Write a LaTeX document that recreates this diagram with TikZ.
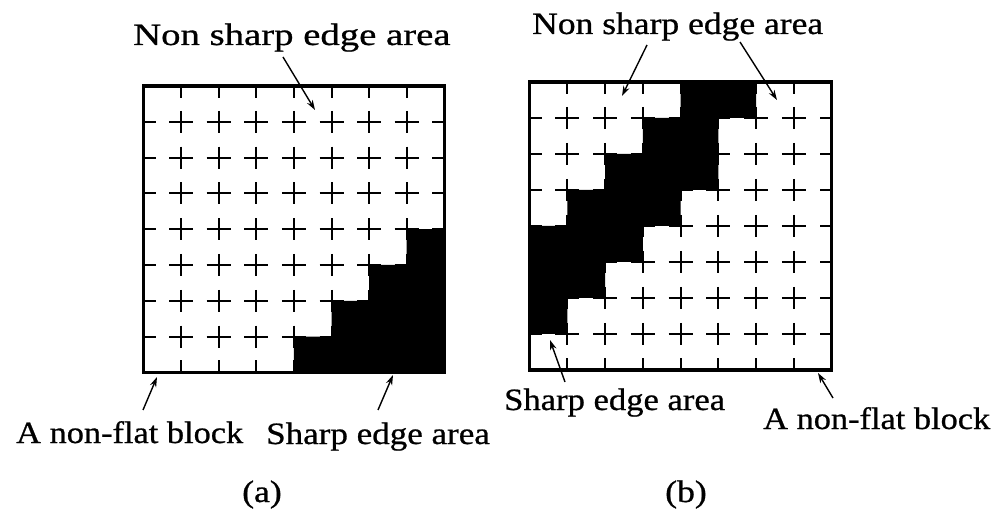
\documentclass[tikz,border=0pt]{standalone}
\usepackage{fontspec}
\setmainfont{Liberation Serif}[FakeBold=0.7]
\usetikzlibrary{arrows.meta}
\begin{document}
\begin{tikzpicture}[x=1pt,y=-1pt,
  lbl/.style={inner sep=0pt, anchor=base west, font=\fontsize{31}{36}\selectfont},
  captext/.style={inner sep=0pt, anchor=base, font=\fontsize{31}{36}\selectfont},
  crossline/.style={line width=2pt},
  frame/.style={line width=3.2pt},
  arr/.style={line width=1.4pt, -{Stealth[length=10pt,width=6.5pt]}},
  blk/.style={fill=black}]
\useasboundingbox (0,0) rectangle (1001,518);

% ---------- grid (a) ----------
\begin{scope}[shift={(143.5,86)}]
  \def\cw{37.6}\def\ch{35.8}
  \foreach \i in {1,...,7} {
    \foreach \j in {1,...,7} {
      \draw[crossline] (\i*\cw-12,\j*\ch) -- ++(24,0);
      \draw[crossline] (\i*\cw,\j*\ch-11) -- ++(0,22);
    }
    \draw[crossline] (\i*\cw,0) -- ++(0,12);
    \draw[crossline] (\i*\cw,8*\ch) -- ++(0,-12);
    \draw[crossline] (0,\i*\ch) -- ++(12,0);
    \draw[crossline] (8*\cw,\i*\ch) -- ++(-12,0);
  }
  \path[blk] (4*\cw,8*\ch) -- (4*\cw,7*\ch) -- (5*\cw,7*\ch) -- (5*\cw,6*\ch)
    -- (6*\cw,6*\ch) -- (6*\cw,5*\ch) -- (7*\cw,5*\ch) -- (7*\cw,4*\ch)
    -- (8*\cw,4*\ch) -- (8*\cw,8*\ch) -- cycle;
  \draw[frame] (0,0) rectangle (8*\cw,8*\ch);
\end{scope}

% ---------- grid (b) ----------
\begin{scope}[shift={(529.5,82)}]
  \def\cw{37.75}\def\ch{36}
  \foreach \i in {1,...,7} {
    \foreach \j in {1,...,7} {
      \draw[crossline] (\i*\cw-12,\j*\ch) -- ++(24,0);
      \draw[crossline] (\i*\cw,\j*\ch-11) -- ++(0,22);
    }
    \draw[crossline] (\i*\cw,0) -- ++(0,12);
    \draw[crossline] (\i*\cw,8*\ch) -- ++(0,-12);
    \draw[crossline] (0,\i*\ch) -- ++(12,0);
    \draw[crossline] (8*\cw,\i*\ch) -- ++(-12,0);
  }
  \path[blk] (4*\cw,0) -- (6*\cw,0) -- (6*\cw,1*\ch) -- (5*\cw,1*\ch)
    -- (5*\cw,3*\ch) -- (4*\cw,3*\ch) -- (4*\cw,4*\ch) -- (3*\cw,4*\ch)
    -- (3*\cw,5*\ch) -- (2*\cw,5*\ch) -- (2*\cw,6*\ch) -- (1*\cw,6*\ch)
    -- (1*\cw,7*\ch) -- (0,7*\ch) -- (0,4*\ch) -- (1*\cw,4*\ch)
    -- (1*\cw,3*\ch) -- (2*\cw,3*\ch) -- (2*\cw,2*\ch) -- (3*\cw,2*\ch)
    -- (3*\cw,1*\ch) -- (4*\cw,1*\ch) -- cycle;
  \draw[frame] (0,0) rectangle (8*\cw,8*\ch);
\end{scope}

% ---------- labels ----------
\node[lbl] (na) at (133,45) {\scalebox{1.25}[1]{Non sharp edge area}};
\node[lbl] (aa) at (16,443) {\scalebox{1.108}[1]{A non-flat block}};
\node[lbl] (sa) at (266,444) {\scalebox{1.13}[1]{Sharp edge area}};
\node[lbl] (nb) at (532,34) {\scalebox{1.146}[1]{Non sharp edge area}};
\node[lbl] (sb) at (504,410) {\scalebox{1.116}[1]{Sharp edge area}};
\node[lbl] (ab) at (763,429) {\scalebox{1.108}[1]{A non-flat block}};
\node[captext] (capa) at (262,502) {\scalebox{1.15}[1]{(a)}};
\node[captext] (capb) at (686,502) {\scalebox{1.15}[1]{(b)}};

% ---------- arrows ----------
\coordinate (na-t) at (283,57);   \coordinate (na-h) at (315,110);
\coordinate (aa-t) at (143,410);  \coordinate (aa-h) at (157,377);
\coordinate (sa-t) at (378,410);  \coordinate (sa-h) at (393,375);
\coordinate (nb-t1) at (647,45);  \coordinate (nb-h1) at (622,96);
\coordinate (nb-t2) at (740,42);  \coordinate (nb-h2) at (777,100);
\coordinate (sb-t) at (565,382);  \coordinate (sb-h) at (550,340);
\coordinate (ab-t) at (833,398);  \coordinate (ab-h) at (818,373);
\draw[arr] (na-t) -- (na-h);
\draw[arr] (aa-t) -- (aa-h);
\draw[arr] (sa-t) -- (sa-h);
\draw[arr] (nb-t1) -- (nb-h1);
\draw[arr] (nb-t2) -- (nb-h2);
\draw[arr] (sb-t) -- (sb-h);
\draw[arr] (ab-t) -- (ab-h);
\end{tikzpicture}
\end{document}
